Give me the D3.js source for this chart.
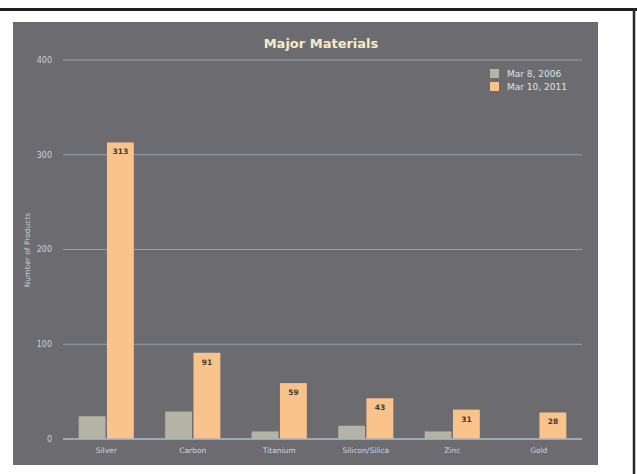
<!DOCTYPE html>
<html>
<head>
<meta charset="utf-8">
<script src="https://cdn.jsdelivr.net/npm/d3@7"></script>
<style>
  body { margin: 0; background: #fff; }
  svg { display: block; }
</style>
</head>
<body>
<div id="chart"></div>
<script>
// chart values
const materials = ["Silver", "Carbon", "Titanium", "Silicon/Silica", "Zinc", "Gold"];
const seriesNames = ["Mar 8, 2006", "Mar 10, 2011"];
const values2006 = [24, 29, 8, 14, 8, 0];
const values2011 = [313, 91, 59, 43, 31, 28];
const yTicks = [0, 100, 200, 300, 400];

const width = 637, height = 474;
const colors = ["#b3b4a3", "#fbc38c"];

const svg = d3.select("#chart").append("svg")
  .attr("width", width)
  .attr("height", height);

// outer frame (top and right edges of the scanned page)
svg.append("line").attr("x1", 0).attr("x2", width).attr("y1", 9.5).attr("y2", 9.5)
  .attr("stroke", "#1e1e1e").attr("stroke-width", 3);
svg.append("line").attr("x1", 634).attr("x2", 634).attr("y1", 8).attr("y2", height)
  .attr("stroke", "#2a2a2a").attr("stroke-width", 2.5);

// grey panel
svg.append("rect")
  .attr("x", 13).attr("y", 22)
  .attr("width", 585).attr("height", 443)
  .attr("fill", "#6b6b70");

const x = d3.scaleBand()
  .domain(materials)
  .range([63, 582])
  .paddingInner(0.33)
  .paddingOuter(0.165);

const xSub = d3.scaleBand()
  .domain(seriesNames)
  .range([0, x.bandwidth()])
  .padding(0.05);

const y = d3.scaleLinear()
  .domain([0, 400])
  .range([439, 60]);

// gridlines + tick labels
const grid = svg.append("g");
grid.selectAll("line")
  .data(yTicks)
  .enter().append("line")
  .attr("x1", 63).attr("x2", 582)
  .attr("y1", d => y(d)).attr("y2", d => y(d))
  .attr("stroke", "#97a1ad")
  .attr("stroke-width", 1.2);

grid.selectAll("text")
  .data(yTicks)
  .enter().append("text")
  .attr("x", 52)
  .attr("y", d => y(d))
  .attr("dy", "0.35em")
  .attr("text-anchor", "end")
  .style("font-family", "DejaVu Sans, sans-serif")
  .style("font-size", "8px")
  .style("fill", "#c2d6dc")
  .text(d => d);

// y axis title
svg.append("text")
  .attr("transform", "translate(30,250) rotate(-90)")
  .attr("text-anchor", "middle")
  .style("font-family", "DejaVu Sans, sans-serif")
  .style("font-size", "7.5px")
  .style("fill", "#c2d6dc")
  .text("Number of Products");

// bars
const rows = materials.map((m, i) => ({ material: m, vals: [values2006[i], values2011[i]] }));

const groups = svg.append("g").selectAll("g")
  .data(rows)
  .enter().append("g")
  .attr("transform", d => `translate(${x(d.material)},0)`);

groups.selectAll("rect")
  .data(d => d.vals.map((v, j) => ({ name: seriesNames[j], value: v, idx: j })))
  .enter().append("rect")
  .attr("x", d => xSub(d.name))
  .attr("width", xSub.bandwidth())
  .attr("y", d => y(d.value))
  .attr("height", d => y(0) - y(d.value))
  .attr("fill", d => colors[d.idx]);

// value labels on the 2011 bars
groups.append("text")
  .attr("x", xSub(seriesNames[1]) + xSub.bandwidth() / 2)
  .attr("y", d => y(d.vals[1]) + 12)
  .attr("text-anchor", "middle")
  .style("font-family", "DejaVu Sans, sans-serif")
  .style("font-size", "7.5px")
  .style("font-weight", "bold")
  .style("fill", "#3a3a3a")
  .text(d => d.vals[1]);

// baseline
svg.append("line")
  .attr("x1", 63).attr("x2", 582)
  .attr("y1", y(0)).attr("y2", y(0))
  .attr("stroke", "#a9b4be")
  .attr("stroke-width", 1.5);

// category labels
svg.append("g").selectAll("text")
  .data(materials)
  .enter().append("text")
  .attr("x", d => x(d) + x.bandwidth() / 2)
  .attr("y", 453)
  .attr("text-anchor", "middle")
  .style("font-family", "DejaVu Sans, sans-serif")
  .style("font-size", "7.5px")
  .style("fill", "#c8d8e0")
  .text(d => d);

// title
svg.append("text")
  .attr("x", 321)
  .attr("y", 48)
  .attr("text-anchor", "middle")
  .style("font-family", "DejaVu Sans, sans-serif")
  .style("font-size", "13px")
  .style("font-weight", "bold")
  .style("fill", "#f6ebc6")
  .text("Major Materials");

// legend
const legend = svg.append("g").attr("transform", "translate(490,69)");
seriesNames.forEach((name, i) => {
  const row = legend.append("g").attr("transform", `translate(0,${i * 13})`);
  row.append("rect")
    .attr("width", 9).attr("height", 9)
    .attr("fill", colors[i]);
  row.append("text")
    .attr("x", 17).attr("y", 8)
    .style("font-family", "DejaVu Sans, sans-serif")
    .style("font-size", "9px")
    .style("fill", "#dde4ea")
    .text(name);
});
</script>
</body>
</html>
